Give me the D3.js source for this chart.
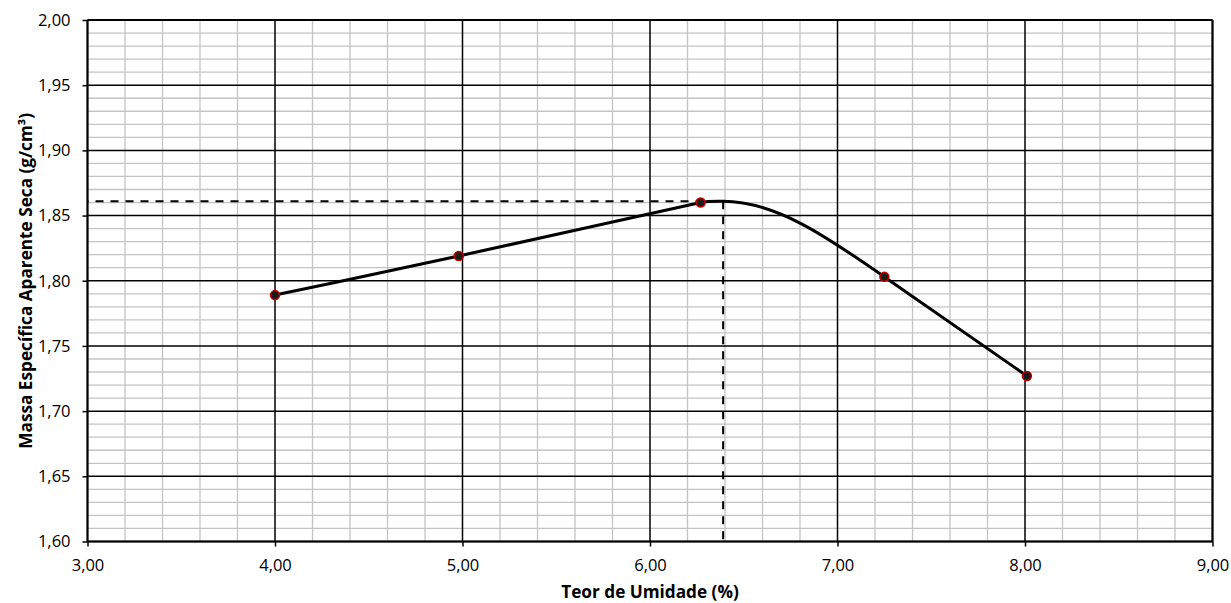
<!DOCTYPE html>
<html>
<head>
<meta charset="utf-8">
<script src="https://cdn.jsdelivr.net/npm/d3@7/dist/d3.min.js"></script>
<style>
  html, body { margin: 0; padding: 0; background: #fff; }
  svg { display: block; }
  text { font-family: "Open Sans", "Noto Sans", sans-serif; fill: #000; }
</style>
</head>
<body>
<svg id="chart" width="1231" height="603"></svg>
<script>
// ---- data ----
const moisture = [4.00, 4.98, 6.27, 7.25, 8.01];          // Teor de Umidade (%)
const density  = [1.789, 1.819, 1.860, 1.803, 1.727];     // Massa específica (g/cm³)
const optimumMoisture = 6.39;                              // umidade ótima
const maxDensity = 1.861;                                  // massa específica máxima
const curveMoisture = [4.00, 4.98, 6.27, 6.39, 7.25, 8.01];
const curveDensity  = [1.789, 1.819, 1.860, 1.861, 1.803, 1.727];
const xTicks = [3, 4, 5, 6, 7, 8, 9];
const yTicks = [1.60, 1.65, 1.70, 1.75, 1.80, 1.85, 1.90, 1.95, 2.00];
const xMinorStep = 0.2;
const yMinorStep = 0.01;
const xTitle = "Teor de Umidade (%)";
const yTitle = "Massa Específica Aparente Seca (g/cm³)";

// ---- smooth curve factory (spreadsheet-style smoothing: flat at extrema) ----
function smoothCurve(context) {
  let xs = [], ys = [];
  return {
    areaStart() {}, areaEnd() {},
    lineStart() { xs = []; ys = []; },
    point(x, y) { xs.push(+x); ys.push(+y); },
    lineEnd() {
      const n = xs.length;
      if (!n) return;
      context.moveTo(xs[0], ys[0]);
      if (n === 1) return;
      const s = [];
      for (let i = 0; i < n - 1; i++) s.push((ys[i + 1] - ys[i]) / (xs[i + 1] - xs[i]));
      const m = xs.map((_, i) => {
        if (i === 0) return s[0];
        if (i === n - 1) return s[n - 2];
        const a = s[i - 1], b = s[i];
        if (a * b <= 0) return 0;
        return Math.abs(a) > Math.abs(b) ? a : b;
      });
      for (let i = 0; i < n - 1; i++) {
        const h = (xs[i + 1] - xs[i]) / 3;
        context.bezierCurveTo(xs[i] + h, ys[i] + m[i] * h,
                              xs[i + 1] - h, ys[i + 1] - m[i + 1] * h,
                              xs[i + 1], ys[i + 1]);
      }
    }
  };
}

// ---- layout ----
const svg = d3.select("#chart");
const L = 87.5, R = 1212.5, T = 20, B = 541.5;
const x = d3.scaleLinear().domain([3, 9]).range([L, R]);
const y = d3.scaleLinear().domain([1.60, 2.00]).range([B, T]);
const fmt = v => d3.format(".2f")(v).replace(".", ",");

// minor grid
const xMinor = d3.range(3, 9.0001, xMinorStep).filter(v => Math.abs(v - Math.round(v)) > 1e-6);
const yMinor = d3.range(1.60, 2.0001, yMinorStep).filter(v => Math.abs(v * 20 - Math.round(v * 20)) > 1e-6);
const g = svg.append("g");
g.selectAll("line.xm").data(xMinor).join("line")
  .attr("x1", d => x(d)).attr("x2", d => x(d)).attr("y1", T).attr("y2", B)
  .attr("stroke", "#c4c4c4").attr("stroke-width", 1.3);
g.selectAll("line.ym").data(yMinor).join("line")
  .attr("y1", d => y(d)).attr("y2", d => y(d)).attr("x1", L).attr("x2", R)
  .attr("stroke", "#c4c4c4").attr("stroke-width", 1.3);

// major grid
g.selectAll("line.xM").data(xTicks).join("line")
  .attr("x1", d => x(d)).attr("x2", d => x(d)).attr("y1", T).attr("y2", B)
  .attr("stroke", "#000").attr("stroke-width", 1.5);
g.selectAll("line.yM").data(yTicks).join("line")
  .attr("y1", d => y(d)).attr("y2", d => y(d)).attr("x1", L).attr("x2", R)
  .attr("stroke", "#000").attr("stroke-width", 1.5);

// axes
const xAxis = d3.axisBottom(x).tickValues(xTicks).tickFormat(fmt).tickSize(5).tickPadding(13);
const yAxis = d3.axisLeft(y).tickValues(yTicks).tickFormat(fmt).tickSize(5).tickPadding(12);
const gx = svg.append("g").attr("transform", `translate(0,${B})`).call(xAxis);
const gy = svg.append("g").attr("transform", `translate(${L},0)`).call(yAxis);
[gx, gy].forEach(a => {
  a.select(".domain").attr("stroke", "#000").attr("stroke-width", 2);
  a.selectAll(".tick line").attr("stroke", "#000").attr("stroke-width", 1.5);
  a.selectAll(".tick text").style("font-family", '"Open Sans", sans-serif').style("font-size", "16.5px").attr("fill", "#000");
});
gx.select(".domain").attr("d", `M${L},0H${R}`);
gy.select(".domain").attr("d", `M0,${B}V${T}`);
// top and right frame
svg.append("line").attr("x1", L).attr("x2", R).attr("y1", T).attr("y2", T).attr("stroke", "#000").attr("stroke-width", 2);
svg.append("line").attr("x1", R).attr("x2", R).attr("y1", T).attr("y2", B).attr("stroke", "#000").attr("stroke-width", 2);

// dashed guides for optimum
svg.append("path")
  .attr("d", `M${x(3)},${y(maxDensity)}H${x(optimumMoisture)}`)
  .attr("fill", "none").attr("stroke", "#000").attr("stroke-width", 2)
  .attr("stroke-dasharray", "8,7").attr("stroke-dashoffset", -8);
svg.append("path")
  .attr("d", `M${x(optimumMoisture)},${y(maxDensity)}V${y(1.60)}`)
  .attr("fill", "none").attr("stroke", "#000").attr("stroke-width", 2)
  .attr("stroke-dasharray", "8,7");

// smoothed compaction curve
const curvePts = curveMoisture.map((m, i) => [m, curveDensity[i]]);
const line = d3.line().x(d => x(d[0])).y(d => y(d[1])).curve(smoothCurve);
svg.append("path").datum(curvePts).attr("d", line)
  .attr("fill", "none").attr("stroke", "#000").attr("stroke-width", 3)
  .attr("stroke-linejoin", "round");

// markers
svg.selectAll("circle.pt").data(moisture.map((m, i) => [m, density[i]])).join("circle")
  .attr("cx", d => x(d[0])).attr("cy", d => y(d[1])).attr("r", 4.5)
  .attr("fill", "#1a1a1a").attr("stroke", "#c00000").attr("stroke-width", 1.5);

// titles
svg.append("text").attr("x", (L + R) / 2).attr("y", 598).attr("text-anchor", "middle")
  .style("font-size", "17.2px").style("font-weight", "bold").text(xTitle);
svg.append("text").attr("transform", `translate(32,${(T + B) / 2}) rotate(-90)`).attr("text-anchor", "middle")
  .style("font-size", "17.2px").style("font-weight", "bold").text(yTitle);
</script>
</body>
</html>
